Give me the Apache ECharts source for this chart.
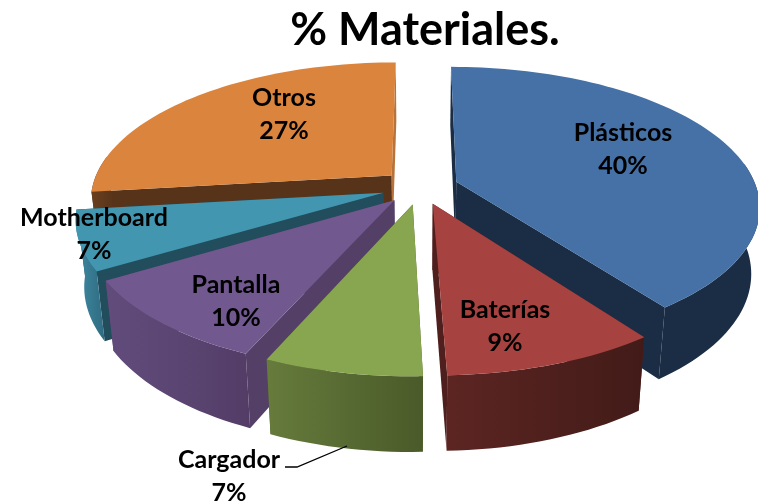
<!DOCTYPE html>
<html>
<head>
  <meta charset="utf-8" />
  <title>% Materiales.</title>
  <style>html,body{margin:0;padding:0;background:#fff}</style>
  <script src="https://cdn.jsdelivr.net/npm/echarts@6/dist/echarts.min.js"></script>
</head>
<body>
<div id="main" style="width:758px;height:504px;"></div>
<script type="text/javascript">
  var categories = ['Plásticos', 'Baterías', 'Cargador', 'Pantalla', 'Motherboard', 'Otros'];
  // shares, the labels show them rounded
  var shares = [40, 9.49, 7, 9.8, 6.8, 26.91];

  var topColors = ['#4571a6', '#a64340', '#88a54f', '#71588f', '#4296b0', '#db843d'];
  var wallLeft = ['#1b2d45', '#5c2522', '#667b3c', '#624c7c', '#3f8aa3', '#6a3f1e'];
  var wallRight = ['#1b2d45', '#421b18', '#4a5a29', '#533d67', '#2f6b80', '#57331a'];
  var cutStart = ['#1b2d45', '#4f1f1d', '#4e5d2d', '#543f66', '#224d5c', '#57331a'];
  var cutEnd = ['#1b2d45', '#4f1f1d', '#4e5d2d', '#543f66', '#224d5c', '#b8733a'];

  // centre of each label, in pixels
  var labelX = [623, 505, 229, 236, 94, 284];
  var labelY = [149, 326, 476, 301, 234, 114];

  // camera of the fake 3D pie
  var cx = 420, cy = 187, rx = 300, ry = 136, persp = 0.17;
  var depth = 65, shrink = 0.975, explode = 0.128;

  var total = shares.reduce(function (a, b) { return a + b; }, 0);
  var starts = [];
  shares.reduce(function (acc, v, i) { starts[i] = acc; return acc + v; }, 0);

  function project(pu, pw, low) {
    var s = 1 / (1 - persp * pw);
    var z = low ? shrink : 1;
    return [cx + rx * pu * s * z, cy + ry * pw * s * z + (low ? depth * s : 0)];
  }

  function sliceShapes(i) {
    var a0 = starts[i] / total * Math.PI * 2;
    var a1 = (starts[i] + shares[i]) / total * Math.PI * 2;
    var mid = (a0 + a1) / 2;
    var ou = explode * Math.sin(mid), ow = -explode * Math.cos(mid);
    var hi = [], lo = [], wallHi = [], wallLo = [];
    var steps = Math.ceil((a1 - a0) / 0.03);
    for (var k = 0; k <= steps; k++) {
      var a = a0 + (a1 - a0) * k / steps;
      var pu = ou + Math.sin(a), pw = ow - Math.cos(a);
      hi.push(project(pu, pw, false));
      lo.push(project(pu, pw, true));
      // the rim only shows where it faces the viewer
      if (-Math.cos(a) > -0.15) {
        wallHi.push(hi[k]);
        wallLo.push(lo[k]);
      }
    }
    var apexHi = project(ou, ow, false), apexLo = project(ou, ow, true);
    var last = hi.length - 1;
    var gradient = {
      type: 'linear', x: 0, y: 0, x2: 1, y2: 0,
      colorStops: [{ offset: 0, color: wallLeft[i] }, { offset: 1, color: wallRight[i] }]
    };
    return {
      order: ow,
      cutA: [apexHi, hi[0], lo[0], apexLo],
      cutB: [apexHi, hi[last], lo[last], apexLo],
      outer: wallHi.concat(wallLo.reverse()),
      top: [apexHi].concat(hi),
      gradient: gradient
    };
  }

  var depthOrder = categories.map(function (c, i) { return i; }).sort(function (a, b) {
    return sliceShapes(a).order - sliceShapes(b).order;
  });

  var myChart = echarts.init(document.getElementById('main'));
  var option = {
    backgroundColor: '#ffffff',
    animation: false,
    title: {
      text: '% Materiales.',
      left: 420,
      top: 3,
      textAlign: 'center',
      textStyle: { fontFamily: 'Lato', fontWeight: 'bold', fontSize: 45, color: '#000' }
    },
    series: [{
      type: 'custom',
      coordinateSystem: 'none',
      data: shares,
      renderItem: function (params) {
        var i = params.dataIndex;
        var sh = sliceShapes(i);
        var z = depthOrder.indexOf(i) * 10;
        function poly(points, fill, z2) {
          return { type: 'polygon', shape: { points: points }, style: { fill: fill }, z2: z2 };
        }
        return {
          type: 'group',
          children: [
            poly(sh.cutA, cutStart[i], z + 1),
            poly(sh.cutB, cutEnd[i], z + 1),
            poly(sh.outer, sh.gradient, z + 2),
            poly(sh.top, topColors[i], z + 3),
            {
              type: 'text',
              z2: 1000,
              style: {
                x: labelX[i],
                y: labelY[i],
                text: categories[i] + '\n' + Math.round(shares[i]) + '%',
                align: 'center',
                verticalAlign: 'middle',
                lineHeight: 33,
                fontFamily: 'Lato',
                fontWeight: 'bold',
                fontSize: 25,
                fill: '#000'
              }
            }
          ]
        };
      }
    }],
    graphic: [{
      type: 'polyline',
      z: 5,
      shape: { points: [[285, 467], [297, 467], [347, 446]] },
      style: { stroke: '#000', lineWidth: 1.3, fill: null }
    }]
  };
  myChart.setOption(option);
</script>
</body>
</html>
